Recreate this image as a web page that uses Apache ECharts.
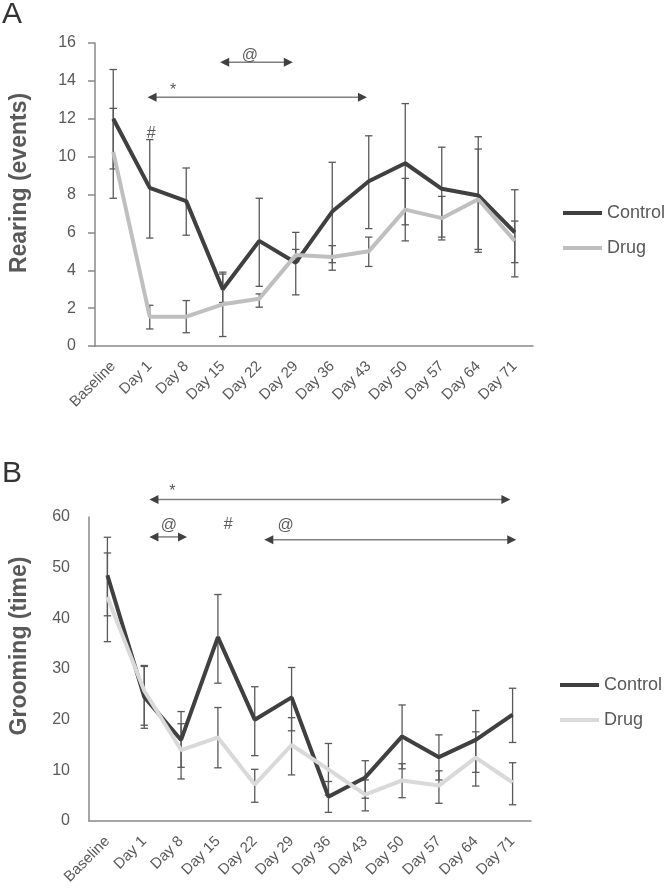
<!DOCTYPE html>
<html><head><meta charset="utf-8">
<script src="https://cdn.jsdelivr.net/npm/echarts@6/dist/echarts.min.js"></script>
<style>html,body{margin:0;padding:0;background:#fff}#c{width:666px;height:891px}</style>
</head><body><div id="c"></div>
<script>
const categories = ['Baseline','Day 1','Day 8','Day 15','Day 22','Day 29','Day 36','Day 43','Day 50','Day 57','Day 64','Day 71'];

// Panel A: Rearing (events)
const rearingControl     = [12.0, 8.35, 7.65, 3.0, 5.55, 4.4, 7.1, 8.7, 9.65, 8.3, 7.95, 6.0];
const rearingControlLow  = [9.35, 5.7, 5.85, 2.3, 3.15, 2.7, 4.4, 6.2, 6.4, 5.75, 4.95, 3.65];
const rearingControlHigh = [14.6, 10.9, 9.4, 3.8, 7.8, 6.0, 9.7, 11.1, 12.8, 10.5, 11.05, 8.25];
const rearingDrug        = [10.25, 1.55, 1.55, 2.2, 2.5, 4.8, 4.7, 5.0, 7.2, 6.75, 7.75, 5.55];
const rearingDrugLow     = [7.8, 0.9, 0.7, 0.5, 2.05, 4.45, 4.0, 4.2, 5.55, 5.6, 5.1, 4.4];
const rearingDrugHigh    = [12.55, 2.15, 2.4, 3.9, 2.75, 5.1, 5.3, 5.75, 8.85, 7.9, 10.4, 6.6];

// Panel B: Grooming (time)
const groomControl     = [48.5, 24.5, 16.0, 36.3, 20.0, 24.4, 4.8, 8.6, 16.7, 12.6, 16.0, 21.0];
const groomControlLow  = [40.5, 18.3, 10.6, 27.2, 12.9, 17.8, 1.7, 4.5, 10.3, 8.1, 9.6, 15.5];
const groomControlHigh = [56.0, 30.7, 21.6, 44.7, 26.5, 30.3, 7.8, 11.9, 22.9, 17.0, 21.8, 26.2];
const groomDrug        = [44.2, 25.7, 14.0, 16.5, 7.2, 15.0, 10.2, 5.2, 8.0, 7.0, 12.5, 7.6];
const groomDrugLow     = [35.4, 18.9, 8.3, 10.5, 3.7, 9.1, 5.1, 2.0, 4.6, 3.5, 6.9, 3.2];
const groomDrugHigh    = [52.9, 30.5, 19.2, 22.4, 10.2, 20.4, 15.3, 8.1, 11.3, 9.9, 17.6, 11.5];

// Significance annotations (x in category-index units, y in axis units)
const arrowsA    = [[0.94, 6.95, 13.13], [2.93, 4.92, 14.98]];
const marksA     = ['*', '@', '#'];
const marksPosA  = [[1.64, 13.5], [3.74, 15.36], [1.04, 11.22]];
const arrowsB    = [[1.14, 10.94, 63.44], [1.14, 2.16, 56.07], [4.26, 11.1, 55.53]];
const marksB     = ['*', '@', '#', '@'];
const marksPosB  = [[1.76, 65.0], [1.67, 58.3], [3.28, 58.5], [4.84, 58.3]];

const FONT = 'Liberation Sans, Arial, sans-serif';
const DARK = '#404040', LIGHT_A = '#bfbfbf', LIGHT_B = '#d9d9d9';
const TXT = '#595959', AXIS = '#898989';

function errSeries(low, high, xi, yi) {
  return {
    type: 'custom', xAxisIndex: xi, yAxisIndex: yi, silent: true,
    data: low.map((l, i) => [i, l, high[i]]),
    encode: {x: 0, y: [1, 2]},
    renderItem(params, api) {
      const x = api.value(0);
      const pl = api.coord([x, api.value(1)]);
      const ph = api.coord([x, api.value(2)]);
      const hw = 3.7;
      const style = {stroke: '#595959', lineWidth: 1.3, fill: null};
      return {type: 'group', children: [
        {type: 'line', shape: {x1: pl[0], y1: pl[1], x2: ph[0], y2: ph[1]}, style},
        {type: 'line', shape: {x1: pl[0] - hw, y1: pl[1], x2: pl[0] + hw, y2: pl[1]}, style},
        {type: 'line', shape: {x1: ph[0] - hw, y1: ph[1], x2: ph[0] + hw, y2: ph[1]}, style}
      ]};
    }
  };
}
function arrowSeries(arrows, xi, yi) {
  return {
    type: 'custom', xAxisIndex: xi, yAxisIndex: yi, silent: true, clip: false, z: 6,
    data: arrows, encode: {x: [0, 1], y: 2},
    renderItem(params, api) {
      const a = api.coord([api.value(0), api.value(2)]);
      const b = api.coord([api.value(1), api.value(2)]);
      const L = 9, W = 4.5;
      return {type: 'group', children: [
        {type: 'line', shape: {x1: a[0] + L - 1, y1: a[1], x2: b[0] - L + 1, y2: b[1]}, style: {stroke: '#7f7f7f', lineWidth: 1.5}},
        {type: 'polygon', shape: {points: [[a[0], a[1]], [a[0] + L, a[1] - W], [a[0] + L, a[1] + W]]}, style: {fill: DARK}},
        {type: 'polygon', shape: {points: [[b[0], b[1]], [b[0] - L, b[1] - W], [b[0] - L, b[1] + W]]}, style: {fill: DARK}}
      ]};
    }
  };
}
function textSeries(pos, texts, xi, yi) {
  return {
    type: 'custom', xAxisIndex: xi, yAxisIndex: yi, silent: true, clip: false, z: 6,
    data: pos, encode: {x: 0, y: 1},
    renderItem(params, api) {
      const p = api.coord([api.value(0), api.value(1)]);
      return {type: 'text', x: p[0], y: p[1], style: {text: texts[params.dataIndex], fill: TXT, fontSize: 16, fontFamily: FONT, align: 'center', verticalAlign: 'middle'}};
    }
  };
}

function catAxis(gi) {
  return {
    type: 'category', gridIndex: gi, data: categories, boundaryGap: true,
    axisLine: {onZero: false, lineStyle: {color: AXIS, width: 1.5}},
    axisTick: {show: false},
    axisLabel: {rotate: 45, interval: 0, fontSize: 15, color: TXT, margin: 18, fontFamily: FONT}
  };
}
function hiddenX(gi) {
  return {type: 'value', gridIndex: gi, min: -0.5, max: 11.5, show: false};
}

const chart = echarts.init(document.getElementById('c'), null, {renderer: 'canvas'});
chart.setOption({
  animation: false,
  backgroundColor: '#fff',
  textStyle: {fontFamily: FONT},
  title: [
    {text: 'A', left: 2, top: 0, padding: 0, textStyle: {fontSize: 30, fontWeight: 'normal', color: '#333', fontFamily: FONT}},
    {text: 'B', left: 2, top: 459, padding: 0, textStyle: {fontSize: 30, fontWeight: 'normal', color: '#333', fontFamily: FONT}}
  ],
  legend: [
    {left: 563, top: 204, orient: 'vertical', padding: 0, icon: 'rect', itemWidth: 39, itemHeight: 4, itemGap: 17, selectedMode: false,
     textStyle: {fontSize: 18, color: TXT, fontFamily: FONT},
     data: [{name: 'Control'}, {name: 'Drug', itemStyle: {color: LIGHT_A}}]},
    {left: 560, top: 676, orient: 'vertical', padding: 0, icon: 'rect', itemWidth: 39, itemHeight: 4, itemGap: 17, selectedMode: false,
     textStyle: {fontSize: 18, color: TXT, fontFamily: FONT},
     data: [{name: 'Control'}, {name: 'Drug', itemStyle: {color: LIGHT_B}}]}
  ],
  grid: [
    {left: 90, top: 43, width: 443, height: 303},
    {left: 82, top: 517, width: 449, height: 304}
  ],
  xAxis: [catAxis(0), catAxis(1), hiddenX(0), hiddenX(1)],
  yAxis: [
    {type: 'value', gridIndex: 0, min: 0, max: 16, interval: 2,
     name: 'Rearing (events)', nameLocation: 'middle', nameGap: 64,
     nameTextStyle: {fontSize: 23, fontWeight: 'bold', color: TXT, fontFamily: FONT, padding: [0, 0, 0, 23]},
     axisLine: {show: true, onZero: false, lineStyle: {color: AXIS, width: 1.5}},
     axisTick: {show: true, length: 7, lineStyle: {color: AXIS, width: 1.5}},
     splitLine: {show: false},
     axisLabel: {fontSize: 16, color: TXT, margin: 19, fontFamily: FONT}},
    {type: 'value', gridIndex: 1, min: 0, max: 60, interval: 10,
     name: 'Grooming (time)', nameLocation: 'middle', nameGap: 58,
     nameTextStyle: {fontSize: 23, fontWeight: 'bold', color: TXT, fontFamily: FONT, padding: [0, 0, 0, 46]},
     axisLine: {show: true, onZero: false, lineStyle: {color: AXIS, width: 1.5}},
     axisTick: {show: false},
     splitLine: {show: false},
     axisLabel: {fontSize: 16, color: TXT, margin: 19, fontFamily: FONT}}
  ],
  series: [
    {type: 'line', name: 'Control', xAxisIndex: 0, yAxisIndex: 0, data: rearingControl, symbol: 'none',
     lineStyle: {width: 4, color: DARK}, itemStyle: {color: DARK}},
    errSeries(rearingControlLow, rearingControlHigh, 0, 0),
    {type: 'line', name: 'Drug', xAxisIndex: 0, yAxisIndex: 0, data: rearingDrug, symbol: 'none',
     lineStyle: {width: 4, color: LIGHT_A}, itemStyle: {color: LIGHT_A}},
    errSeries(rearingDrugLow, rearingDrugHigh, 0, 0),
    {type: 'line', name: 'Control', xAxisIndex: 1, yAxisIndex: 1, data: groomControl, symbol: 'none',
     lineStyle: {width: 4, color: DARK}, itemStyle: {color: DARK}},
    errSeries(groomControlLow, groomControlHigh, 1, 1),
    {type: 'line', name: 'Drug', xAxisIndex: 1, yAxisIndex: 1, data: groomDrug, symbol: 'none',
     lineStyle: {width: 4, color: LIGHT_B}, itemStyle: {color: LIGHT_B}},
    errSeries(groomDrugLow, groomDrugHigh, 1, 1),
    arrowSeries(arrowsA, 2, 0),
    textSeries(marksPosA, marksA, 2, 0),
    arrowSeries(arrowsB, 3, 1),
    textSeries(marksPosB, marksB, 3, 1)
  ]
});
</script>
</body></html>
